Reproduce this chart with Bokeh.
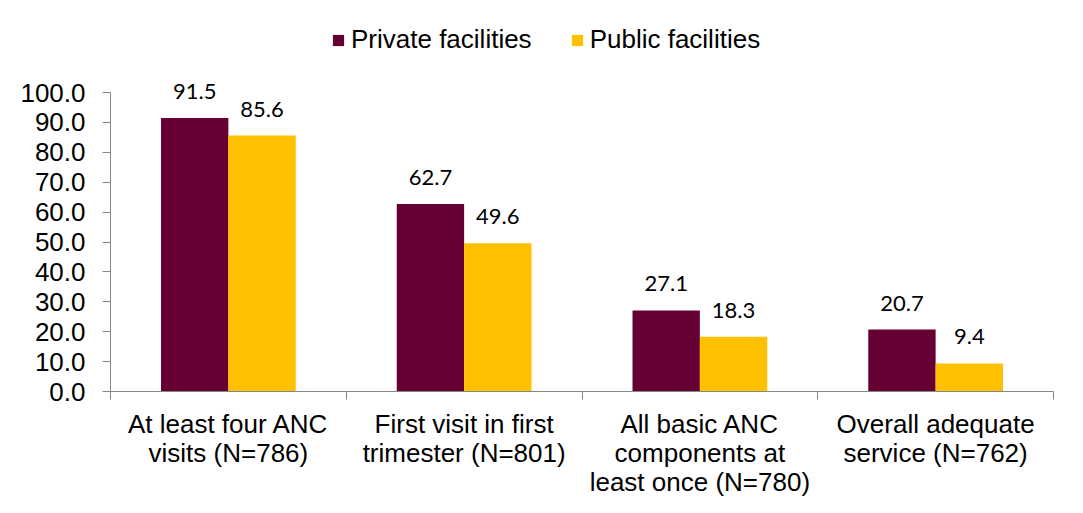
from bokeh.plotting import figure
from bokeh.models import (ColumnDataSource, Range1d, LinearAxis,
                          FixedTicker, Legend, LegendItem, LabelSet, NumeralTickFormatter,
                          CustomJSTickFormatter)
from bokeh.core.properties import value
from bokeh.embed import file_html
from bokeh.resources import INLINE

categories = [
    "At least four ANC\nvisits (N=786)",
    "First visit in first\ntrimester (N=801)",
    "All basic ANC\ncomponents at\nleast once (N=780)",
    "Overall adequate\nservice (N=762)",
]
private = [91.5, 62.7, 27.1, 20.7]
public = [85.6, 49.6, 18.3, 9.4]
series_names = ["Private facilities", "Public facilities"]
y_ticks = [0, 10, 20, 30, 40, 50, 60, 70, 80, 90, 100]

PRIVATE_COLOR = "#660033"
PUBLIC_COLOR = "#FFC000"
AXIS_COLOR = "#868686"
FONT = "Liberation Sans"

n = len(categories)
w = 1 / 3.5  # bar width per series (Excel gap width 150%)
centers = [i + 0.5 for i in range(n)]

source = ColumnDataSource(dict(
    cat=categories,
    xp=[c - w / 2 for c in centers],
    xq=[c + w / 2 for c in centers],
    private=private,
    public=public,
    private_lbl=[f"{v:.1f}" for v in private],
    public_lbl=[f"{v:.1f}" for v in public],
))

# frame: x 110..1053, y 20..391 ; value 100 sits at y=92
FRAME_TOP, FRAME_BOTTOM, Y100 = 20, 391, 92
y_end = 100 * (FRAME_BOTTOM - FRAME_TOP) / (FRAME_BOTTOM - Y100)

p = figure(width=1083, height=513, x_range=Range1d(0, n), y_range=Range1d(0, y_end),
           output_backend="svg", toolbar_location=None, x_axis_location=None,
           min_border_left=110, min_border_right=30, min_border_top=FRAME_TOP,
           min_border_bottom=513 - FRAME_BOTTOM)
p.outline_line_color = None
p.grid.visible = False
p.background_fill_color = "white"
p.border_fill_color = "white"

# y axis
yax = p.yaxis[0]
yax.bounds = (0, 100)
yax.ticker = FixedTicker(ticks=y_ticks)
yax.formatter = NumeralTickFormatter(format="0.0")
yax.major_tick_in = 0
yax.major_tick_out = 8
yax.minor_tick_line_color = None
yax.axis_line_color = AXIS_COLOR
yax.major_tick_line_color = AXIS_COLOR
yax.major_label_text_font = FONT
yax.major_label_text_font_size = "26px"
yax.major_label_text_color = "black"
yax.major_label_standoff = 17

# x axis: boundary ticks, then one axis per line of the category labels
tick_axis = LinearAxis(ticker=FixedTicker(ticks=list(range(n + 1))),
                       formatter=CustomJSTickFormatter(code="return ''"),
                       major_tick_in=0, major_tick_out=8,
                       axis_line_color=AXIS_COLOR, major_tick_line_color=AXIS_COLOR,
                       minor_tick_line_color=None,
                       major_label_text_font_size="1px", major_label_standoff=0)
p.add_layout(tick_axis, "below")

split = [c.split("\n") for c in categories]
n_lines = max(len(s) for s in split)
for k in range(n_lines):
    overrides = {c: (s[k] if k < len(s) else "") for c, s in zip(centers, split)}
    ax = LinearAxis(ticker=FixedTicker(ticks=centers), major_label_overrides=overrides,
                    axis_line_color=None, major_tick_line_color=None,
                    minor_tick_line_color=None, major_tick_out=0, major_tick_in=0,
                    major_label_text_font=FONT, major_label_text_font_size="26px",
                    major_label_text_color="black",
                    major_label_standoff=9 if k == 0 else -4)
    p.add_layout(ax, "below")

r1 = p.vbar(x="xp", top="private", width=w, source=source,
            fill_color=PRIVATE_COLOR, line_color=None)
r2 = p.vbar(x="xq", top="public", width=w, source=source,
            fill_color=PUBLIC_COLOR, line_color=None)

for xcol, col, lbl in (("xp", "private", "private_lbl"), ("xq", "public", "public_lbl")):
    ls = LabelSet(x=xcol, y=col, text=lbl, source=source,
                  y_offset=19, text_align="center", text_baseline="alphabetic",
                  text_font=value("Lato"), text_font_size="22px", text_color="black")
    p.add_layout(ls)

legend = Legend(items=[LegendItem(label=series_names[0], renderers=[r1]),
                       LegendItem(label=series_names[1], renderers=[r2])],
                orientation="horizontal", location=(221, 336),
                glyph_width=14, glyph_height=14, label_standoff=6, spacing=38,
                padding=0, margin=0, border_line_color=None, background_fill_alpha=0,
                label_text_font=FONT, label_text_font_size="26px", label_text_color="black")
p.add_layout(legend, "center")

open("out.html", "w").write(file_html(p, INLINE))
